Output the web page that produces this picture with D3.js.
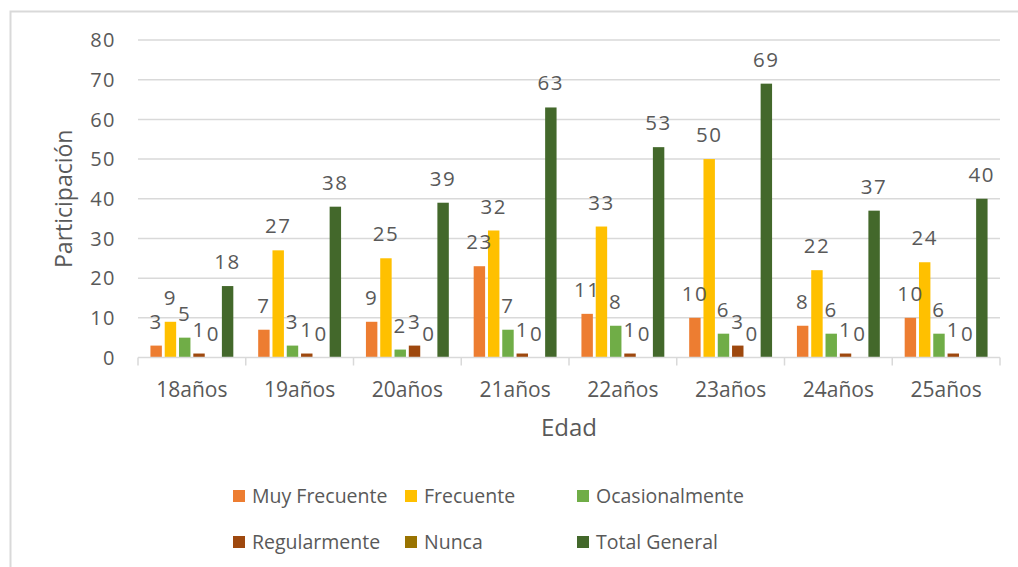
<!DOCTYPE html>
<html>
<head>
<meta charset="utf-8">
<script src="https://cdn.jsdelivr.net/npm/d3@7"></script>
<style>
  body { margin: 0; background: #fff; }
  text { font-family: "Open Sans", sans-serif; fill: #595959; }
</style>
</head>
<body>
<div id="chart"></div>
<script>
// data
const edades = ["18años", "19años", "20años", "21años", "22años", "23años", "24años", "25años"];
const series = ["Muy Frecuente", "Frecuente", "Ocasionalmente", "Regularmente", "Nunca", "Total General"];
const muyFrecuente = [3, 7, 9, 23, 11, 10, 8, 10];
const frecuente = [9, 27, 25, 32, 33, 50, 22, 24];
const ocasionalmente = [5, 3, 2, 7, 8, 6, 6, 6];
const regularmente = [1, 1, 3, 1, 1, 3, 1, 1];
const nunca = [0, 0, 0, 0, 0, 0, 0, 0];
const totalGeneral = [18, 38, 39, 63, 53, 69, 37, 40];
const yTicks = [0, 10, 20, 30, 40, 50, 60, 70, 80];

const seriesValues = [muyFrecuente, frecuente, ocasionalmente, regularmente, nunca, totalGeneral];
const colors = ["#ED7D31", "#FFC000", "#70AD47", "#9E480E", "#997300", "#43682B"];

const W = 1018, H = 567;
const margin = {top: 40, right: 18, bottom: 209.5, left: 138};
const width = W - margin.left - margin.right,
      height = H - margin.top - margin.bottom;

let svg = d3.select("#chart")
    .append("svg")
    .attr("width", W)
    .attr("height", H);

// outer frame
svg.append("rect")
    .attr("x", 10.5).attr("y", 11.5)
    .attr("width", W).attr("height", H)
    .attr("fill", "none")
    .attr("stroke", "#d9d9d9")
    .attr("stroke-width", 2);

let g = svg.append("g")
    .attr("transform", `translate(${margin.left}, ${margin.top})`);

let x0 = d3.scaleBand().domain(edades).range([0, width]);
let x1 = d3.scaleBand().domain(series).range([0, x0.bandwidth()])
    .paddingInner(0.2).paddingOuter(0.87);
let y = d3.scaleLinear().domain([0, 80]).range([height, 0]);

// gridlines
g.append("g")
    .selectAll("line")
    .data(yTicks.slice(1))
    .enter()
    .append("line")
    .attr("x1", 0).attr("x2", width)
    .attr("y1", d => y(d)).attr("y2", d => y(d))
    .attr("stroke", "#d9d9d9")
    .attr("stroke-width", 1.5);

// y tick labels
g.append("g")
    .selectAll("text")
    .data(yTicks)
    .enter()
    .append("text")
    .attr("x", -22)
    .attr("y", d => y(d))
    .attr("dy", "0.36em")
    .style("text-anchor", "end")
    .style("font-size", "20px")
    .style("letter-spacing", "1.5px")
    .text(d => d);

// bars
let groups = g.selectAll(".grp")
    .data(edades)
    .enter()
    .append("g")
    .attr("class", "grp")
    .attr("transform", d => `translate(${x0(d)}, 0)`);

groups.selectAll("rect")
    .data((d, i) => series.map((s, j) => ({s: s, v: seriesValues[j][i], c: colors[j]})))
    .enter()
    .append("rect")
    .attr("x", d => x1(d.s))
    .attr("y", d => y(d.v))
    .attr("width", x1.bandwidth())
    .attr("height", d => height - y(d.v))
    .attr("fill", d => d.c);

groups.selectAll("text")
    .data((d, i) => series.map((s, j) => ({s: s, v: seriesValues[j][i]})))
    .enter()
    .append("text")
    .attr("x", d => x1(d.s) + x1.bandwidth() / 2)
    .attr("y", d => y(d.v) - 17)
    .style("text-anchor", "middle")
    .style("font-size", "20.5px")
    .style("letter-spacing", "1.5px")
    .text(d => d.v);

// x axis
let xAxis = g.append("g").attr("transform", `translate(0, ${height})`);
xAxis.append("line")
    .attr("x1", 0).attr("x2", width)
    .attr("stroke", "#d9d9d9").attr("stroke-width", 1.5);
xAxis.selectAll(".tick")
    .data(d3.range(edades.length + 1))
    .enter()
    .append("line")
    .attr("x1", d => d * x0.step()).attr("x2", d => d * x0.step())
    .attr("y1", 0).attr("y2", 8)
    .attr("stroke", "#d9d9d9").attr("stroke-width", 1.5);
xAxis.selectAll("text")
    .data(edades)
    .enter()
    .append("text")
    .attr("x", d => x0(d) + x0.bandwidth() / 2)
    .attr("y", 39.5)
    .style("text-anchor", "middle")
    .style("font-size", "21px")
    .text(d => d);

// axis titles
g.append("text")
    .attr("transform", `translate(${width / 2}, ${height + 78})`)
    .style("text-anchor", "middle")
    .style("font-size", "24px")
    .text("Edad");

g.append("text")
    .attr("transform", `translate(-66, ${height / 2}) rotate(-90)`)
    .style("text-anchor", "middle")
    .style("font-size", "23px")
    .text("Participación");

// legend
const legendX = [233, 405, 577];
const legendY = [496, 542];
let legend = svg.append("g")
    .selectAll("g")
    .data(series)
    .enter()
    .append("g")
    .attr("transform", (d, i) => `translate(${legendX[i % 3]}, ${legendY[Math.floor(i / 3)]})`);

legend.append("rect")
    .attr("x", 0).attr("y", -6)
    .attr("width", 12).attr("height", 12)
    .attr("fill", (d, i) => colors[i]);

legend.append("text")
    .attr("x", 19)
    .attr("y", 0)
    .attr("dy", "0.36em")
    .style("font-size", "19.5px")
    .text(d => d);
</script>
</body>
</html>
